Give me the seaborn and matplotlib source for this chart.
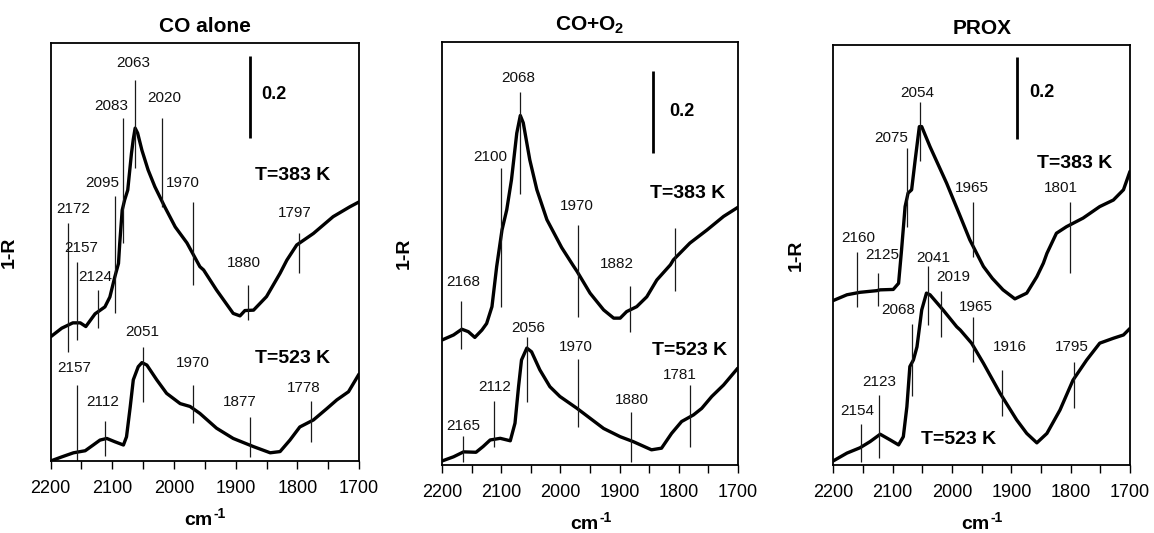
import matplotlib
matplotlib.use("Agg")
import matplotlib.pyplot as plt
import matplotlib.transforms as mtransforms
import pandas as pd
import seaborn as sns

# ---------------- spectra: wavenumber (cm-1) vs 1-R ----------------
co_383_wn = [2200, 2182, 2164, 2152, 2143, 2128, 2112, 2104, 2096, 2090, 2088, 2084, 2080,
             2075, 2069, 2066, 2063, 2059, 2052, 2042, 2031, 2015, 1998, 1979, 1958, 1952,
             1931, 1904, 1893, 1885, 1871, 1850, 1828, 1817, 1801, 1774, 1742, 1715, 1700]
co_383_r = [0.303, 0.324, 0.337, 0.337, 0.328, 0.359, 0.376, 0.400, 0.449, 0.482, 0.531,
            0.612, 0.637, 0.661, 0.750, 0.785, 0.812, 0.800, 0.758, 0.710, 0.669, 0.620,
            0.571, 0.532, 0.474, 0.466, 0.417, 0.360, 0.354, 0.367, 0.368, 0.401, 0.458,
            0.490, 0.527, 0.555, 0.596, 0.620, 0.632]

co_523_wn = [2200, 2182, 2163, 2144, 2131, 2120, 2109, 2096, 2082, 2077, 2071, 2066, 2058,
             2052, 2044, 2028, 2012, 1990, 1974, 1958, 1931, 1904, 1871, 1844, 1828, 1812,
             1796, 1774, 1752, 1736, 1717, 1700]
co_523_r = [0.000, 0.010, 0.020, 0.025, 0.039, 0.051, 0.055, 0.047, 0.039, 0.059, 0.132,
            0.198, 0.230, 0.240, 0.234, 0.198, 0.165, 0.140, 0.133, 0.116, 0.080, 0.055,
            0.035, 0.020, 0.023, 0.051, 0.083, 0.100, 0.128, 0.149, 0.169, 0.212]

coo2_383_wn = [2200, 2181, 2167, 2156, 2145, 2133, 2125, 2116, 2108, 2099, 2091, 2083, 2074,
               2068, 2063, 2052, 2040, 2023, 1998, 1978, 1972, 1950, 1927, 1910, 1899, 1888,
               1871, 1854, 1837, 1814, 1809, 1781, 1752, 1724, 1700]
coo2_383_r = [0.305, 0.317, 0.331, 0.325, 0.311, 0.329, 0.345, 0.386, 0.484, 0.573, 0.622,
              0.695, 0.809, 0.852, 0.834, 0.744, 0.671, 0.598, 0.530, 0.485, 0.472, 0.419,
              0.378, 0.358, 0.358, 0.374, 0.386, 0.410, 0.451, 0.488, 0.500, 0.541, 0.573,
              0.606, 0.628]

coo2_523_wn = [2200, 2181, 2164, 2143, 2131, 2119, 2102, 2085, 2077, 2071, 2066, 2057, 2049,
               2035, 2018, 2001, 1972, 1950, 1927, 1899, 1877, 1846, 1829, 1812, 1795, 1775,
               1761, 1744, 1724, 1700]
coo2_523_r = [0.010, 0.020, 0.032, 0.031, 0.045, 0.061, 0.065, 0.059, 0.102, 0.191, 0.256,
              0.285, 0.276, 0.232, 0.191, 0.167, 0.138, 0.114, 0.089, 0.069, 0.057, 0.037,
              0.041, 0.077, 0.106, 0.122, 0.138, 0.167, 0.195, 0.236]

prox_383_wn = [2200, 2177, 2155, 2127, 2121, 2099, 2090, 2085, 2079, 2074, 2068, 2062, 2055,
               2051, 2037, 2009, 1986, 1970, 1947, 1932, 1914, 1894, 1874, 1857, 1846, 1840,
               1824, 1807, 1779, 1751, 1728, 1711, 1700]
prox_383_r = [0.401, 0.415, 0.421, 0.425, 0.427, 0.428, 0.443, 0.524, 0.630, 0.663, 0.671,
              0.744, 0.825, 0.825, 0.776, 0.687, 0.606, 0.549, 0.484, 0.455, 0.427, 0.405,
              0.419, 0.459, 0.492, 0.516, 0.565, 0.581, 0.602, 0.630, 0.646, 0.671, 0.716]

prox_523_wn = [2200, 2177, 2155, 2138, 2121, 2104, 2090, 2082, 2076, 2071, 2065, 2059, 2051,
               2043, 2037, 2015, 1992, 1986, 1967, 1947, 1919, 1891, 1874, 1857, 1840, 1818,
               1796, 1773, 1751, 1728, 1711, 1700]
prox_523_r = [0.010, 0.029, 0.042, 0.057, 0.075, 0.061, 0.049, 0.069, 0.142, 0.240, 0.256,
              0.288, 0.378, 0.419, 0.415, 0.378, 0.337, 0.329, 0.297, 0.248, 0.175, 0.110,
              0.077, 0.054, 0.077, 0.134, 0.207, 0.256, 0.297, 0.309, 0.317, 0.333]

# ---------------- band assignments (cm-1) ----------------
co_383_bands = [2172, 2157, 2124, 2095, 2083, 2063, 2020, 1970, 1880, 1797]
co_523_bands = [2157, 2112, 2051, 1970, 1877, 1778]
coo2_383_bands = [2168, 2100, 2068, 1970, 1882, 1806]
coo2_383_text = ["2168", "2100", "2068", "1970", "1882", ""]
coo2_523_bands = [2165, 2112, 2056, 1970, 1880, 1781]
prox_383_bands = [2160, 2125, 2075, 2054, 1965, 1801]
prox_523_bands = [2154, 2123, 2068, 2041, 2019, 1965, 1916, 1795]

panel_titles = ["CO alone", r"CO+O$_{\mathbf{2}}$", "PROX"]
temp_labels = ["T=383 K", "T=523 K"]
scale_value = 0.2
xtick_values = list(range(1700, 2201, 50))

# ---------------- layout of marker lines: (y_bottom, y_top, text_x, text_y) ----------------
co_383_pos = [(0.266, 0.580, 2164, 0.614), (0.295, 0.486, 2150, 0.519), (0.324, 0.417, 2128, 0.448),
              (0.362, 0.646, 2116, 0.677), (0.532, 0.836, 2102, 0.866), (0.715, 0.929, 2066, 0.971),
              (0.620, 0.836, 2016, 0.885), (0.429, 0.632, 1985, 0.677), (0.344, 0.429, 1886, 0.482),
              (0.458, 0.555, 1804, 0.604)]
co_523_pos = [(0.000, 0.185, 2162, 0.226), (0.012, 0.098, 2116, 0.145), (0.145, 0.277, 2052, 0.315),
              (0.093, 0.185, 1969, 0.238), (0.010, 0.108, 1894, 0.145), (0.047, 0.146, 1789, 0.177)]
coo2_383_pos = [(0.282, 0.401, 2165, 0.447), (0.386, 0.724, 2119, 0.752), (0.661, 0.910, 2072, 0.943),
                (0.362, 0.585, 1972, 0.632), (0.325, 0.437, 1905, 0.490), (0.425, 0.577, 1806, 0.6)]
coo2_523_pos = [(0.007, 0.071, 2165, 0.096), (0.045, 0.157, 2111, 0.191), (0.154, 0.313, 2055, 0.333),
                (0.093, 0.258, 1974, 0.287), (0.007, 0.129, 1879, 0.159), (0.045, 0.195, 1798, 0.220)]
prox_383_pos = [(0.386, 0.519, 2158, 0.554), (0.388, 0.468, 2118, 0.512), (0.581, 0.772, 2103, 0.797),
                (0.740, 0.886, 2059, 0.908), (0.508, 0.642, 1967, 0.675), (0.468, 0.642, 1817, 0.675)]
prox_523_pos = [(0.008, 0.100, 2159, 0.132), (0.016, 0.171, 2122, 0.203), (0.168, 0.344, 2091, 0.378),
                (0.341, 0.485, 2032, 0.505), (0.313, 0.425, 1998, 0.459), (0.250, 0.362, 1960, 0.386),
                (0.120, 0.232, 1903, 0.287), (0.140, 0.250, 1798, 0.287)]

# per panel: axes rect, y-limit, temperature label spots, scale bar spot
panel_rects = [[0.0439, 0.1351, 0.2672, 0.7837],
               [0.3833, 0.1276, 0.2560, 0.7942],
               [0.7221, 0.1276, 0.2571, 0.7880]]
panel_ytop = [1.019, 1.032, 1.024]
temp_pos = [[(1807, 0.696), (1807, 0.249)],
            [(1785, 0.661), (1782, 0.280)],
            [(1793, 0.736), (1989, 0.063)]]
bar_pos = [(1876, 0.788, 1859, 0.894),
           (1844, 0.761, 1816, 0.862),
           (1890, 0.794, 1870, 0.907)]
ylabel_x = [-0.106, -0.099, -0.095]

sns.set_theme(style="ticks")
plt.rcParams["font.family"] = ["Liberation Sans", "DejaVu Sans"]
plt.rcParams["mathtext.fontset"] = "custom"
plt.rcParams["mathtext.rm"] = "Liberation Sans"
plt.rcParams["mathtext.bf"] = "Liberation Sans:bold"

fig = plt.figure(figsize=(11.54, 5.33), dpi=100)

panels = [
    (co_383_wn, co_383_r, co_523_wn, co_523_r,
     co_383_bands, [str(b) for b in co_383_bands], co_383_pos,
     co_523_bands, [str(b) for b in co_523_bands], co_523_pos),
    (coo2_383_wn, coo2_383_r, coo2_523_wn, coo2_523_r,
     coo2_383_bands, coo2_383_text, coo2_383_pos,
     coo2_523_bands, [str(b) for b in coo2_523_bands], coo2_523_pos),
    (prox_383_wn, prox_383_r, prox_523_wn, prox_523_r,
     prox_383_bands, [str(b) for b in prox_383_bands], prox_383_pos,
     prox_523_bands, [str(b) for b in prox_523_bands], prox_523_pos),
]

for i, (wh, rh, wl, rl, bh, th, ph, bl, tl, pl) in enumerate(panels):
    ax = fig.add_axes(panel_rects[i])
    df = pd.concat([
        pd.DataFrame({"wn": wh, "r": rh, "T": temp_labels[0]}),
        pd.DataFrame({"wn": wl, "r": rl, "T": temp_labels[1]}),
    ])
    sns.lineplot(data=df, x="wn", y="r", units="T", estimator=None, sort=False,
                 color="black", lw=2.4, ax=ax, solid_joinstyle="round",
                 solid_capstyle="round")

    for bands, texts, pos in ((bh, th, ph), (bl, tl, pl)):
        for b, t, (y0, y1, tx, ty) in zip(bands, texts, pos):
            ax.vlines(b, y0, y1, color="#1a1a1a", lw=0.9)
            if t:
                ax.text(tx, ty, t, ha="center", va="center", fontsize=11, color="#111111")

    for (tx, ty), lab in zip(temp_pos[i], temp_labels):
        ax.text(tx, ty, lab, ha="center", va="center", fontsize=14,
                fontweight="bold", color="black")

    bx, by, lx, ly = bar_pos[i]
    ax.vlines(bx, by, by + scale_value, color="black", lw=2.0)
    ax.text(lx, ly, f"{scale_value}", ha="left", va="center", fontsize=13,
            fontweight="bold", color="black")

    ax.set_xlim(2200, 1700)
    ax.set_ylim(0, panel_ytop[i])
    ax.set_xticks(xtick_values)
    ax.set_xticklabels([str(v) if v % 100 == 0 else "" for v in xtick_values])
    ax.set_yticks([])
    ax.tick_params(axis="x", direction="out", length=6, width=1.0, pad=8,
                   labelsize=13, color="black", labelcolor="black")
    for sp in ax.spines.values():
        sp.set_visible(True)
        sp.set_color("black")
        sp.set_linewidth(1.3)

    # x-axis unit: bold "cm" with a small raised "-1", centred under the axes
    ax.set_xlabel("")
    base = ax.transAxes
    ax.text(0.5, 0.0, "cm", ha="right", va="baseline", fontsize=14, fontweight="bold",
            color="black",
            transform=mtransforms.offset_copy(base, fig=fig, x=8, y=-64, units="dots"))
    ax.text(0.5, 0.0, "-1", ha="left", va="center", fontsize=10, fontweight="bold",
            color="black",
            transform=mtransforms.offset_copy(base, fig=fig, x=9, y=-53, units="dots"))

    ax.set_ylabel("1-R", fontsize=14, fontweight="bold", color="black")
    ax.yaxis.set_label_coords(ylabel_x[i], 0.5)
    ax.set_title(panel_titles[i], fontsize=15, fontweight="bold", color="black", pad=8)

fig.savefig("out.png", dpi=100)
